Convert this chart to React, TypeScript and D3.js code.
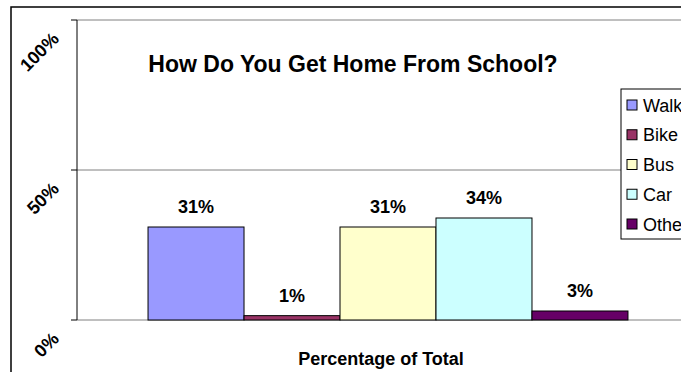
import React from "react";
import * as d3 from "d3";

const series = ["Walk", "Bike", "Bus", "Car", "Other"];
const values = [0.31, 0.0145, 0.31, 0.34, 0.03];
const colors = ["#9999FF", "#993366", "#FFFFCC", "#CCFFFF", "#660066"];
const yTicks = [0, 0.5, 1];
const title = "How Do You Get Home From School?";
const xTitle = "Percentage of Total";

const W = 681;
const H = 372;
const FONT = "'Liberation Sans', Arial, Helvetica, sans-serif";

export default function App() {
  const y = d3.scaleLinear().domain([0, 1]).range([320, 20]);
  const x = d3
    .scaleBand<string>()
    .domain(series)
    .range([77, 699])
    .paddingInner(0)
    .paddingOuter(0.74);
  const pct = d3.format(".0%");
  const legendY = d3.scalePoint<string>().domain(series).range([105, 224]);

  return (
    <svg
      width={W}
      height={H}
      style={{ position: "absolute", left: 0, top: 0, background: "#fff" }}
      fontFamily={FONT}
    >
      <rect x={0} y={0} width={W} height={H} fill="#fff" />
      {/* outer chart border */}
      <rect x={11} y={7} width={W + 20} height={H + 20} fill="none" stroke="#000" strokeWidth={1.5} />

      {/* gridlines */}
      {yTicks.map((t) => (
        <line key={"g" + t} x1={77} x2={W} y1={y(t)} y2={y(t)} stroke="#808080" strokeWidth={1} />
      ))}
      {/* ticks */}
      {yTicks.map((t) => (
        <line key={"t" + t} x1={71} x2={77} y1={y(t)} y2={y(t)} stroke="#000" strokeWidth={1} />
      ))}
      {/* y axis */}
      <line x1={77} x2={77} y1={y(1)} y2={y(0)} stroke="#000" strokeWidth={1} />

      {/* tick labels */}
      {yTicks.map((t) => (
        <text
          key={"l" + t}
          transform={`translate(60,${y(t) + 20}) rotate(-45)`}
          textAnchor="end"
          fontSize={18}
          fontWeight="bold"
          fill="#000"
        >
          {pct(t)}
        </text>
      ))}

      {/* bars */}
      {series.map((s, i) => (
        <rect
          key={s}
          x={x(s)}
          y={y(values[i])}
          width={x.bandwidth()}
          height={y(0) - y(values[i])}
          fill={colors[i]}
          stroke="#000"
          strokeWidth={1}
        />
      ))}

      {/* data labels */}
      {series.map((s, i) => (
        <text
          key={"d" + s}
          x={(x(s) as number) + x.bandwidth() / 2}
          y={y(values[i]) - 14}
          textAnchor="middle"
          fontSize={18}
          fontWeight="bold"
          fill="#000"
        >
          {pct(values[i])}
        </text>
      ))}

      {/* title */}
      <text x={353} y={72} textAnchor="middle" fontSize={23} fontWeight="bold" fill="#000">
        {title}
      </text>

      {/* x axis title */}
      <text x={381} y={365} textAnchor="middle" fontSize={18} fontWeight="bold" fill="#000">
        {xTitle}
      </text>

      {/* legend */}
      <rect x={621} y={89} width={100} height={150} fill="#fff" stroke="#000" strokeWidth={1} />
      {series.map((s, i) => (
        <g key={"lg" + s} transform={`translate(0,${legendY(s)})`}>
          <rect x={627} y={-5} width={10} height={10} fill={colors[i]} stroke="#000" strokeWidth={1} />
          <text x={643} y={6.5} fontSize={18} fill="#000">
            {s}
          </text>
        </g>
      ))}
    </svg>
  );
}
